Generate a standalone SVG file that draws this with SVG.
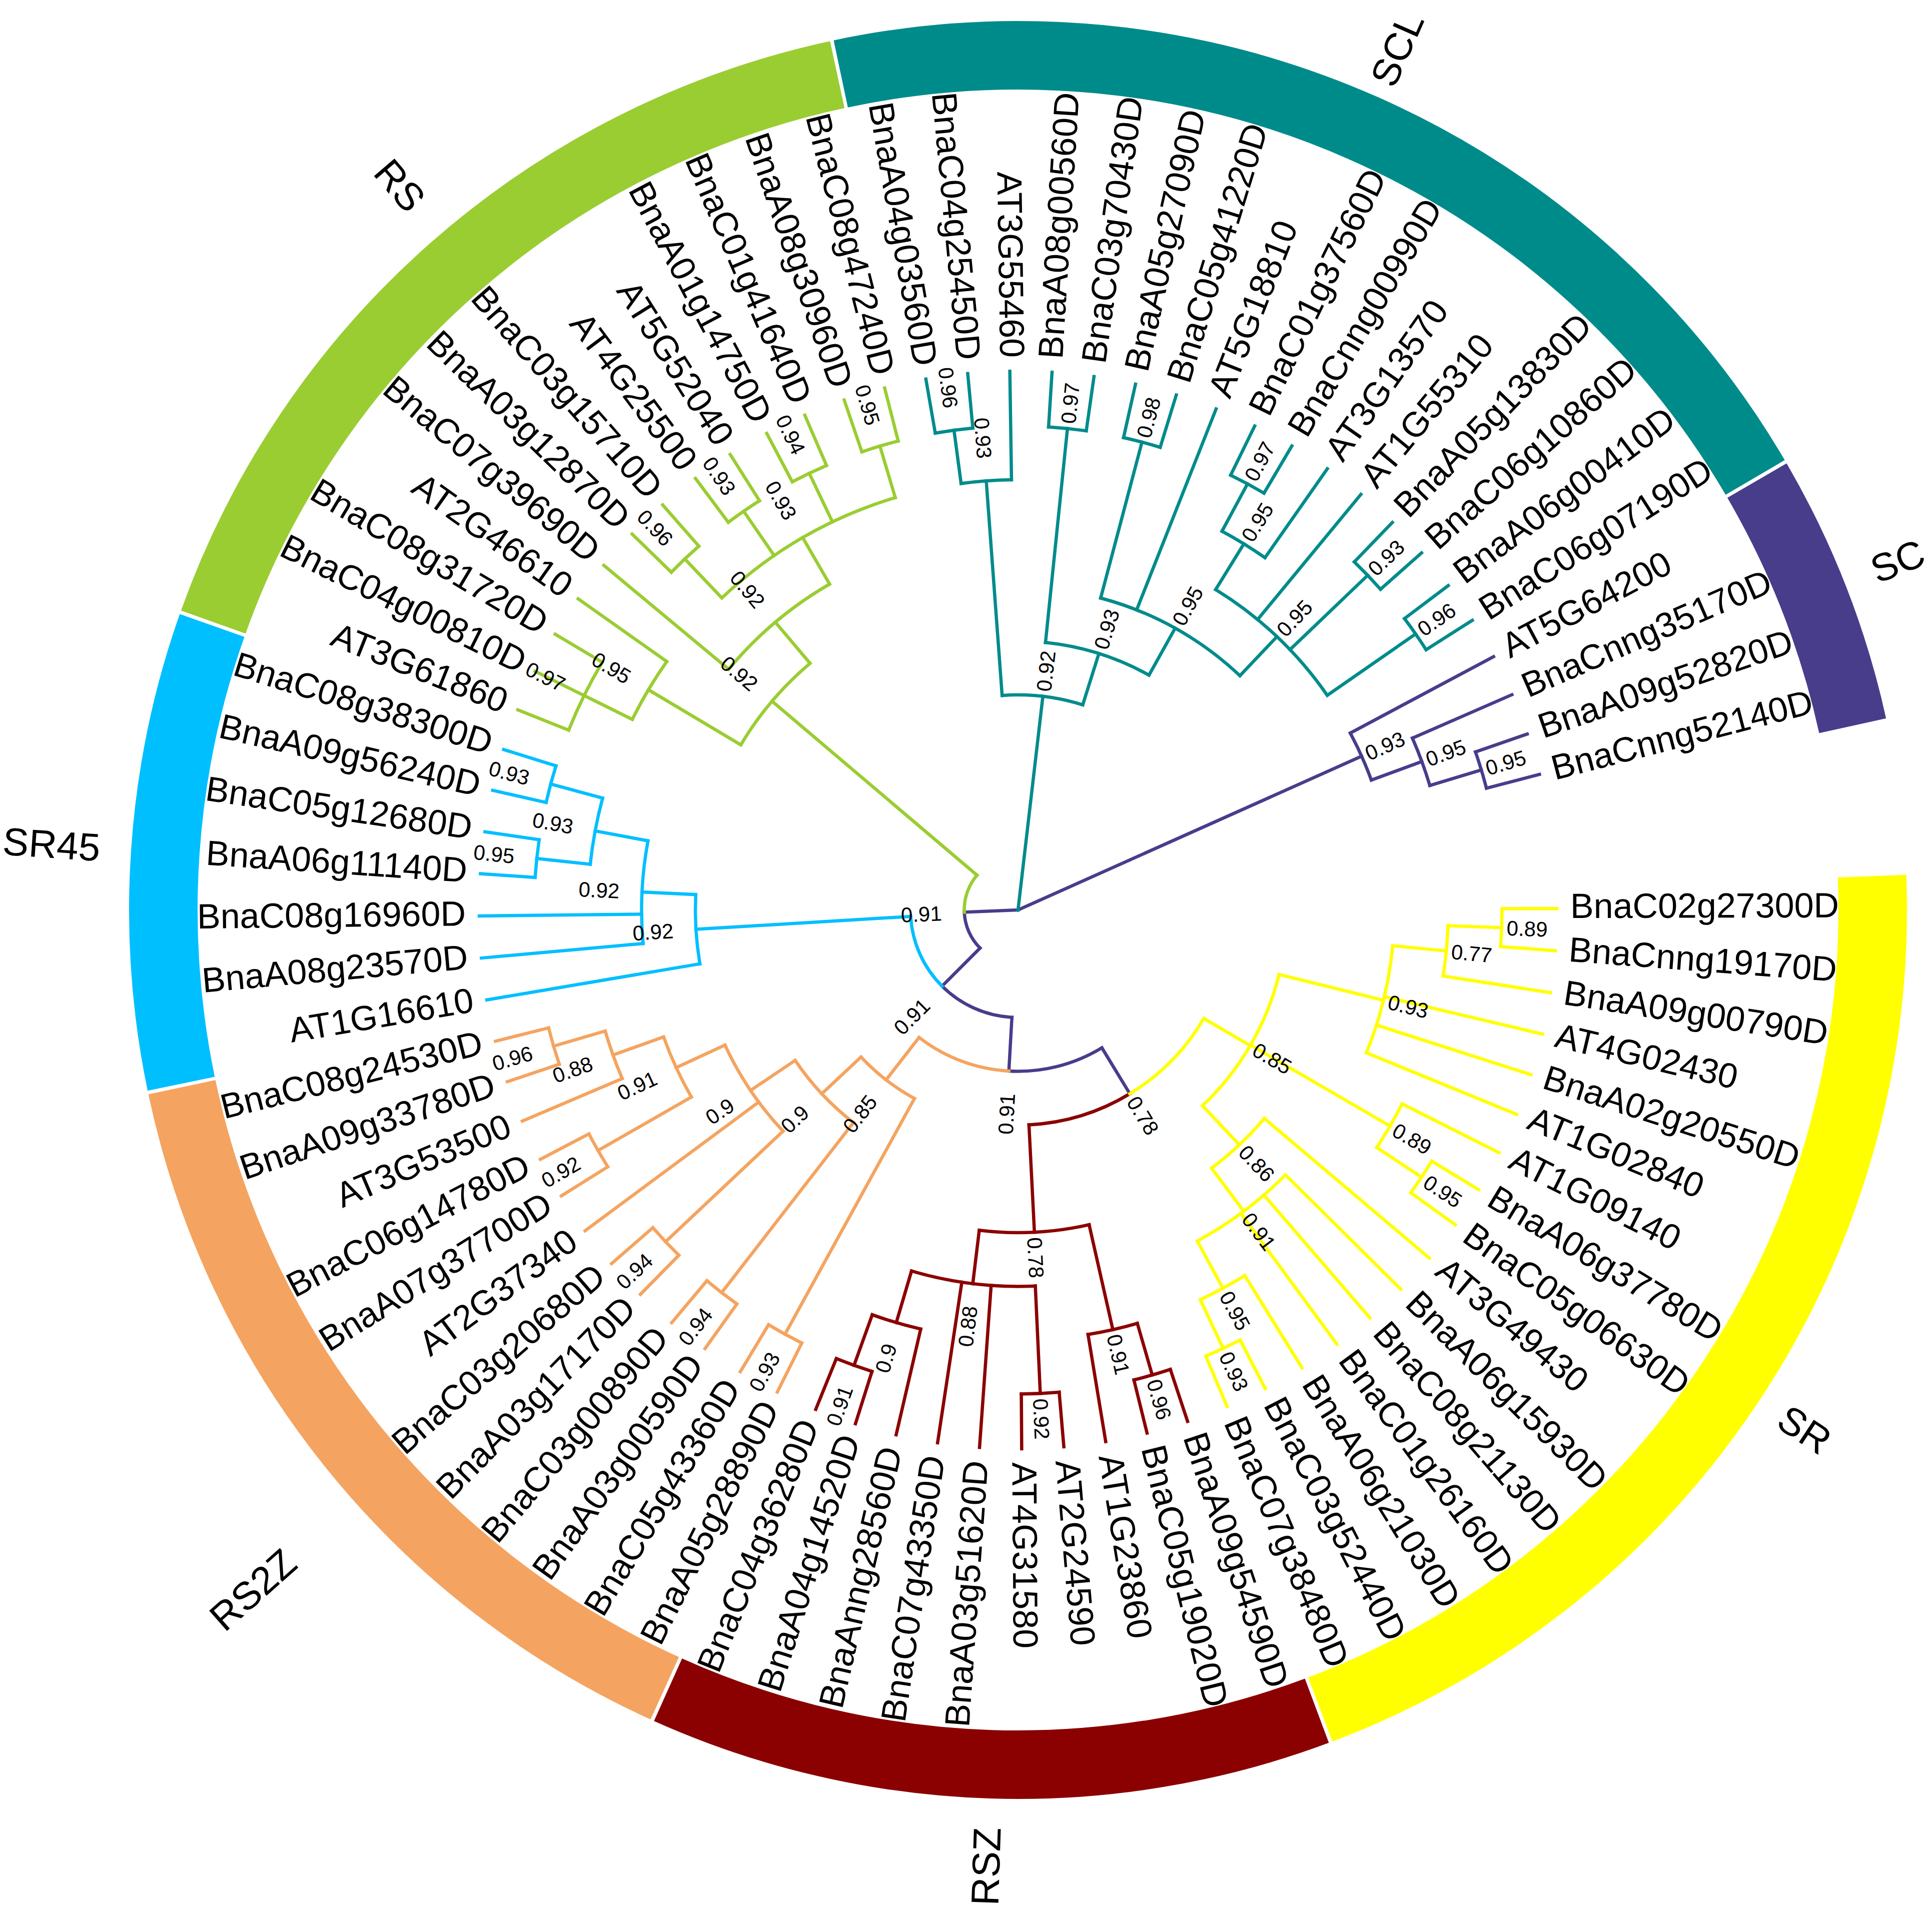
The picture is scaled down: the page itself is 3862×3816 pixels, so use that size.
<svg xmlns="http://www.w3.org/2000/svg" width="3862" height="3816" viewBox="0 0 3862 3816">
<style>
text{font-family:"Liberation Sans",Arial,Helvetica,sans-serif;fill:#000}
.t{font-size:70px}
.b{font-size:42px}
.g{font-size:78px;text-anchor:middle}
.e{text-anchor:end}
#connectors line,#connectors circle{fill:none;stroke-width:6.5;stroke-linecap:square}
#ring circle{fill:none;stroke-width:137}
.cRS{stroke:#9ACD32}.cSCL{stroke:#008B8B}.cSC{stroke:#483D8B}.cSR45{stroke:#00BFFF}.cRS2Z{stroke:#F4A460}.cRSZ{stroke:#8B0000}.cSR{stroke:#FFFF00}
</style>
<rect width="3862" height="3816" fill="#fff"/>
<g transform="translate(2035 1819)">
<g id="ring">
<circle class="cSR" r="1708.5" pathLength="360" stroke-dasharray="71.568 400" transform="rotate(-2.274)"/>
<circle class="cRSZ" r="1708.5" pathLength="360" stroke-dasharray="44.64 400" transform="rotate(69.534)"/>
<circle class="cRS2Z" r="1708.5" pathLength="360" stroke-dasharray="53.616 400" transform="rotate(114.414)"/>
<circle class="cSR45" r="1708.5" pathLength="360" stroke-dasharray="31.176 400" transform="rotate(168.27)"/>
<circle class="cRS" r="1708.5" pathLength="360" stroke-dasharray="58.104 400" transform="rotate(199.686)"/>
<circle class="cSCL" r="1708.5" pathLength="360" stroke-dasharray="71.568 400" transform="rotate(258.03)"/>
<circle class="cSC" r="1708.5" pathLength="360" stroke-dasharray="17.712 400" transform="rotate(329.838)"/>
</g>
<g id="connectors">
<g class="cSC">
<line x2="107.5" transform="rotate(177.618)"/>
<circle r="107.5" pathLength="360" stroke-dasharray="42.707 400" transform="rotate(134.911)"/>
<line x1="107.5" x2="215" transform="rotate(134.911)"/>
<circle r="215" pathLength="360" stroke-dasharray="41.654 400" transform="rotate(93.257)"/>
<line x1="215" x2="322.5" transform="rotate(93.257)"/>
<circle r="322.5" pathLength="360" stroke-dasharray="34.571 400" transform="rotate(58.686)"/>
<line x1="322.5" x2="430" transform="rotate(58.686)"/>
<line x2="752.5" transform="rotate(335.889)"/>
<circle r="752.5" pathLength="360" stroke-dasharray="7.854 400" transform="rotate(331.962)"/>
<line x1="752.5" x2="1077" transform="rotate(331.962)"/>
<line x1="752.5" x2="860" transform="rotate(339.816)"/>
<circle r="860" pathLength="360" stroke-dasharray="6.732 400" transform="rotate(336.45)"/>
<line x1="860" x2="1077" transform="rotate(336.45)"/>
<line x1="860" x2="967.5" transform="rotate(343.182)"/>
<circle r="967.5" pathLength="360" stroke-dasharray="4.488 400" transform="rotate(340.938)"/>
<line x1="967.5" x2="1077" transform="rotate(340.938)"/>
<line x1="967.5" x2="1077" transform="rotate(345.426)"/>
</g>
<g class="cRS">
<circle r="107.5" pathLength="360" stroke-dasharray="42.705 400" transform="rotate(177.618)"/>
<line x1="107.5" x2="645" transform="rotate(220.323)"/>
<circle r="645" pathLength="360" stroke-dasharray="19.074 400" transform="rotate(210.786)"/>
<line x1="645" x2="860" transform="rotate(210.786)"/>
<circle r="860" pathLength="360" stroke-dasharray="8.976 400" transform="rotate(206.298)"/>
<line x1="860" x2="967.5" transform="rotate(206.298)"/>
<circle r="967.5" pathLength="360" stroke-dasharray="8.976 400" transform="rotate(201.81)"/>
<line x1="967.5" x2="1077" transform="rotate(201.81)"/>
<line x1="967.5" x2="1077" transform="rotate(206.298)"/>
<line x1="967.5" x2="1077" transform="rotate(210.786)"/>
<line x1="860" x2="1077" transform="rotate(215.274)"/>
<line x1="645" x2="752.5" transform="rotate(229.86)"/>
<circle r="752.5" pathLength="360" stroke-dasharray="20.196 400" transform="rotate(219.762)"/>
<line x1="752.5" x2="1077" transform="rotate(219.762)"/>
<line x1="752.5" x2="860" transform="rotate(239.958)"/>
<circle r="860" pathLength="360" stroke-dasharray="26.928 400" transform="rotate(226.494)"/>
<line x1="860" x2="967.5" transform="rotate(226.494)"/>
<circle r="967.5" pathLength="360" stroke-dasharray="4.488 400" transform="rotate(224.25)"/>
<line x1="967.5" x2="1077" transform="rotate(224.25)"/>
<line x1="967.5" x2="1077" transform="rotate(228.738)"/>
<line x1="860" x2="967.5" transform="rotate(235.47)"/>
<circle r="967.5" pathLength="360" stroke-dasharray="4.488 400" transform="rotate(233.226)"/>
<line x1="967.5" x2="1077" transform="rotate(233.226)"/>
<line x1="967.5" x2="1077" transform="rotate(237.714)"/>
<line x1="860" x2="967.5" transform="rotate(244.446)"/>
<circle r="967.5" pathLength="360" stroke-dasharray="4.488 400" transform="rotate(242.202)"/>
<line x1="967.5" x2="1077" transform="rotate(242.202)"/>
<line x1="967.5" x2="1077" transform="rotate(246.69)"/>
<line x1="860" x2="967.5" transform="rotate(253.422)"/>
<circle r="967.5" pathLength="360" stroke-dasharray="4.488 400" transform="rotate(251.178)"/>
<line x1="967.5" x2="1077" transform="rotate(251.178)"/>
<line x1="967.5" x2="1077" transform="rotate(255.666)"/>
</g>
<g class="cSR45">
<circle r="215" pathLength="360" stroke-dasharray="41.654 400" transform="rotate(134.911)"/>
<line x1="215" x2="645" transform="rotate(176.565)"/>
<circle r="645" pathLength="360" stroke-dasharray="12.342 400" transform="rotate(170.394)"/>
<line x1="645" x2="1077" transform="rotate(170.394)"/>
<line x1="645" x2="752.5" transform="rotate(182.736)"/>
<circle r="752.5" pathLength="360" stroke-dasharray="15.708 400" transform="rotate(174.882)"/>
<line x1="752.5" x2="1077" transform="rotate(174.882)"/>
<line x1="752.5" x2="1077" transform="rotate(179.37)"/>
<line x1="752.5" x2="860" transform="rotate(190.59)"/>
<circle r="860" pathLength="360" stroke-dasharray="8.976 400" transform="rotate(186.102)"/>
<line x1="860" x2="967.5" transform="rotate(186.102)"/>
<circle r="967.5" pathLength="360" stroke-dasharray="4.488 400" transform="rotate(183.858)"/>
<line x1="967.5" x2="1077" transform="rotate(183.858)"/>
<line x1="967.5" x2="1077" transform="rotate(188.346)"/>
<line x1="860" x2="967.5" transform="rotate(195.078)"/>
<circle r="967.5" pathLength="360" stroke-dasharray="4.488 400" transform="rotate(192.834)"/>
<line x1="967.5" x2="1077" transform="rotate(192.834)"/>
<line x1="967.5" x2="1077" transform="rotate(197.322)"/>
</g>
<g class="cRS2Z">
<circle r="322.5" pathLength="360" stroke-dasharray="34.571 400" transform="rotate(93.257)"/>
<line x1="322.5" x2="430" transform="rotate(127.828)"/>
<circle r="430" pathLength="360" stroke-dasharray="18.092 400" transform="rotate(118.782)"/>
<line x1="430" x2="967.5" transform="rotate(118.782)"/>
<circle r="967.5" pathLength="360" stroke-dasharray="4.488 400" transform="rotate(116.538)"/>
<line x1="967.5" x2="1077" transform="rotate(116.538)"/>
<line x1="967.5" x2="1077" transform="rotate(121.026)"/>
<line x1="430" x2="537.5" transform="rotate(136.874)"/>
<circle r="537.5" pathLength="360" stroke-dasharray="18.232 400" transform="rotate(127.758)"/>
<line x1="537.5" x2="967.5" transform="rotate(127.758)"/>
<circle r="967.5" pathLength="360" stroke-dasharray="4.488 400" transform="rotate(125.514)"/>
<line x1="967.5" x2="1077" transform="rotate(125.514)"/>
<line x1="967.5" x2="1077" transform="rotate(130.002)"/>
<line x1="537.5" x2="645" transform="rotate(145.99)"/>
<circle r="645" pathLength="360" stroke-dasharray="18.513 400" transform="rotate(136.734)"/>
<line x1="645" x2="967.5" transform="rotate(136.734)"/>
<circle r="967.5" pathLength="360" stroke-dasharray="4.488 400" transform="rotate(134.49)"/>
<line x1="967.5" x2="1077" transform="rotate(134.49)"/>
<line x1="967.5" x2="1077" transform="rotate(138.978)"/>
<line x1="645" x2="1077" transform="rotate(143.466)"/>
<line x1="645" x2="752.5" transform="rotate(155.247)"/>
<circle r="752.5" pathLength="360" stroke-dasharray="10.098 400" transform="rotate(150.198)"/>
<line x1="752.5" x2="967.5" transform="rotate(150.198)"/>
<circle r="967.5" pathLength="360" stroke-dasharray="4.488 400" transform="rotate(147.954)"/>
<line x1="967.5" x2="1077" transform="rotate(147.954)"/>
<line x1="967.5" x2="1077" transform="rotate(152.442)"/>
<line x1="752.5" x2="860" transform="rotate(160.296)"/>
<circle r="860" pathLength="360" stroke-dasharray="6.732 400" transform="rotate(156.93)"/>
<line x1="860" x2="1077" transform="rotate(156.93)"/>
<line x1="860" x2="967.5" transform="rotate(163.662)"/>
<circle r="967.5" pathLength="360" stroke-dasharray="4.488 400" transform="rotate(161.418)"/>
<line x1="967.5" x2="1077" transform="rotate(161.418)"/>
<line x1="967.5" x2="1077" transform="rotate(165.906)"/>
</g>
<g class="cRSZ">
<circle r="430" pathLength="360" stroke-dasharray="28.4 400" transform="rotate(58.686)"/>
<line x1="430" x2="645" transform="rotate(87.086)"/>
<circle r="645" pathLength="360" stroke-dasharray="19.635 400" transform="rotate(77.268)"/>
<line x1="645" x2="860" transform="rotate(77.268)"/>
<circle r="860" pathLength="360" stroke-dasharray="6.732 400" transform="rotate(73.902)"/>
<line x1="860" x2="967.5" transform="rotate(73.902)"/>
<circle r="967.5" pathLength="360" stroke-dasharray="4.488 400" transform="rotate(71.658)"/>
<line x1="967.5" x2="1077" transform="rotate(71.658)"/>
<line x1="967.5" x2="1077" transform="rotate(76.146)"/>
<line x1="860" x2="1077" transform="rotate(80.634)"/>
<line x1="645" x2="752.5" transform="rotate(96.903)"/>
<circle r="752.5" pathLength="360" stroke-dasharray="19.074 400" transform="rotate(87.366)"/>
<line x1="752.5" x2="967.5" transform="rotate(87.366)"/>
<circle r="967.5" pathLength="360" stroke-dasharray="4.488 400" transform="rotate(85.122)"/>
<line x1="967.5" x2="1077" transform="rotate(85.122)"/>
<line x1="967.5" x2="1077" transform="rotate(89.61)"/>
<line x1="752.5" x2="1077" transform="rotate(94.098)"/>
<line x1="752.5" x2="1077" transform="rotate(98.586)"/>
<line x1="752.5" x2="860" transform="rotate(106.44)"/>
<circle r="860" pathLength="360" stroke-dasharray="6.732 400" transform="rotate(103.074)"/>
<line x1="860" x2="1077" transform="rotate(103.074)"/>
<line x1="860" x2="967.5" transform="rotate(109.806)"/>
<circle r="967.5" pathLength="360" stroke-dasharray="4.488 400" transform="rotate(107.562)"/>
<line x1="967.5" x2="1077" transform="rotate(107.562)"/>
<line x1="967.5" x2="1077" transform="rotate(112.05)"/>
</g>
<g class="cSR">
<circle r="430" pathLength="360" stroke-dasharray="28.401 400" transform="rotate(30.285)"/>
<line x1="430" x2="537.5" transform="rotate(30.285)"/>
<circle r="537.5" pathLength="360" stroke-dasharray="32.819 400" transform="rotate(13.875)"/>
<line x1="537.5" x2="752.5" transform="rotate(13.875)"/>
<circle r="752.5" pathLength="360" stroke-dasharray="16.83 400" transform="rotate(5.46)"/>
<line x1="752.5" x2="860" transform="rotate(5.46)"/>
<circle r="860" pathLength="360" stroke-dasharray="6.732 400" transform="rotate(2.094)"/>
<line x1="860" x2="967.5" transform="rotate(2.094)"/>
<circle r="967.5" pathLength="360" stroke-dasharray="4.488 400" transform="rotate(-0.15)"/>
<line x1="967.5" x2="1077" transform="rotate(-0.15)"/>
<line x1="967.5" x2="1077" transform="rotate(4.338)"/>
<line x1="860" x2="1077" transform="rotate(8.826)"/>
<line x1="752.5" x2="1077" transform="rotate(13.314)"/>
<line x1="752.5" x2="1077" transform="rotate(17.802)"/>
<line x1="752.5" x2="1077" transform="rotate(22.29)"/>
<line x1="537.5" x2="860" transform="rotate(30.144)"/>
<circle r="860" pathLength="360" stroke-dasharray="6.732 400" transform="rotate(26.778)"/>
<line x1="860" x2="1077" transform="rotate(26.778)"/>
<line x1="860" x2="967.5" transform="rotate(33.51)"/>
<circle r="967.5" pathLength="360" stroke-dasharray="4.488 400" transform="rotate(31.266)"/>
<line x1="967.5" x2="1077" transform="rotate(31.266)"/>
<line x1="967.5" x2="1077" transform="rotate(35.754)"/>
<line x1="537.5" x2="645" transform="rotate(46.694)"/>
<circle r="645" pathLength="360" stroke-dasharray="12.903 400" transform="rotate(40.242)"/>
<line x1="645" x2="1077" transform="rotate(40.242)"/>
<line x1="645" x2="752.5" transform="rotate(53.145)"/>
<circle r="752.5" pathLength="360" stroke-dasharray="16.83 400" transform="rotate(44.73)"/>
<line x1="752.5" x2="1077" transform="rotate(44.73)"/>
<line x1="752.5" x2="1077" transform="rotate(49.218)"/>
<line x1="752.5" x2="1077" transform="rotate(53.706)"/>
<line x1="752.5" x2="860" transform="rotate(61.56)"/>
<circle r="860" pathLength="360" stroke-dasharray="6.732 400" transform="rotate(58.194)"/>
<line x1="860" x2="1077" transform="rotate(58.194)"/>
<line x1="860" x2="967.5" transform="rotate(64.926)"/>
<circle r="967.5" pathLength="360" stroke-dasharray="4.488 400" transform="rotate(62.682)"/>
<line x1="967.5" x2="1077" transform="rotate(62.682)"/>
<line x1="967.5" x2="1077" transform="rotate(67.17)"/>
</g>
<g class="cSCL">
<line x2="430" transform="rotate(276.634)"/>
<circle r="430" pathLength="360" stroke-dasharray="21.739 400" transform="rotate(265.764)"/>
<line x1="430" x2="860" transform="rotate(265.764)"/>
<circle r="860" pathLength="360" stroke-dasharray="6.732 400" transform="rotate(262.398)"/>
<line x1="860" x2="967.5" transform="rotate(262.398)"/>
<circle r="967.5" pathLength="360" stroke-dasharray="4.488 400" transform="rotate(260.154)"/>
<line x1="967.5" x2="1077" transform="rotate(260.154)"/>
<line x1="967.5" x2="1077" transform="rotate(264.642)"/>
<line x1="860" x2="1077" transform="rotate(269.13)"/>
<line x1="430" x2="537.5" transform="rotate(287.503)"/>
<circle r="537.5" pathLength="360" stroke-dasharray="23.282 400" transform="rotate(275.862)"/>
<line x1="537.5" x2="967.5" transform="rotate(275.862)"/>
<circle r="967.5" pathLength="360" stroke-dasharray="4.488 400" transform="rotate(273.618)"/>
<line x1="967.5" x2="1077" transform="rotate(273.618)"/>
<line x1="967.5" x2="1077" transform="rotate(278.106)"/>
<line x1="537.5" x2="645" transform="rotate(299.144)"/>
<circle r="645" pathLength="360" stroke-dasharray="28.611 400" transform="rotate(284.838)"/>
<line x1="645" x2="967.5" transform="rotate(284.838)"/>
<circle r="967.5" pathLength="360" stroke-dasharray="4.488 400" transform="rotate(282.594)"/>
<line x1="967.5" x2="1077" transform="rotate(282.594)"/>
<line x1="967.5" x2="1077" transform="rotate(287.082)"/>
<line x1="645" x2="1077" transform="rotate(291.57)"/>
<line x1="645" x2="752.5" transform="rotate(313.449)"/>
<circle r="752.5" pathLength="360" stroke-dasharray="23.562 400" transform="rotate(301.668)"/>
<line x1="752.5" x2="860" transform="rotate(301.668)"/>
<circle r="860" pathLength="360" stroke-dasharray="6.732 400" transform="rotate(298.302)"/>
<line x1="860" x2="967.5" transform="rotate(298.302)"/>
<circle r="967.5" pathLength="360" stroke-dasharray="4.488 400" transform="rotate(296.058)"/>
<line x1="967.5" x2="1077" transform="rotate(296.058)"/>
<line x1="967.5" x2="1077" transform="rotate(300.546)"/>
<line x1="860" x2="1077" transform="rotate(305.034)"/>
<line x1="752.5" x2="1077" transform="rotate(309.522)"/>
<line x1="752.5" x2="967.5" transform="rotate(316.254)"/>
<circle r="967.5" pathLength="360" stroke-dasharray="4.488 400" transform="rotate(314.01)"/>
<line x1="967.5" x2="1077" transform="rotate(314.01)"/>
<line x1="967.5" x2="1077" transform="rotate(318.498)"/>
<line x1="752.5" x2="967.5" transform="rotate(325.23)"/>
<circle r="967.5" pathLength="360" stroke-dasharray="4.488 400" transform="rotate(322.986)"/>
<line x1="967.5" x2="1077" transform="rotate(322.986)"/>
<line x1="967.5" x2="1077" transform="rotate(327.474)"/>
</g>
</g>
<g id="leaves">
<g id="BnaC02g27300D"><text class="t" x="1104" y="19" transform="rotate(-0.15)">BnaC02g27300D</text></g>
<g id="BnaCnng19170D"><text class="t" x="1104" y="19" transform="rotate(4.338)">BnaCnng19170D</text></g>
<g id="BnaA09g00790D"><text class="t" x="1104" y="19" transform="rotate(8.826)">BnaA09g00790D</text></g>
<g id="AT4G02430"><text class="t" x="1104" y="19" transform="rotate(13.314)">AT4G02430</text></g>
<g id="BnaA02g20550D"><text class="t" x="1104" y="19" transform="rotate(17.802)">BnaA02g20550D</text></g>
<g id="AT1G02840"><text class="t" x="1104" y="19" transform="rotate(22.29)">AT1G02840</text></g>
<g id="AT1G09140"><text class="t" x="1104" y="19" transform="rotate(26.778)">AT1G09140</text></g>
<g id="BnaA06g37780D"><text class="t" x="1104" y="19" transform="rotate(31.266)">BnaA06g37780D</text></g>
<g id="BnaC05g06630D"><text class="t" x="1104" y="19" transform="rotate(35.754)">BnaC05g06630D</text></g>
<g id="AT3G49430"><text class="t" x="1104" y="19" transform="rotate(40.242)">AT3G49430</text></g>
<g id="BnaA06g15930D"><text class="t" x="1104" y="19" transform="rotate(44.73)">BnaA06g15930D</text></g>
<g id="BnaC08g21130D"><text class="t" x="1104" y="19" transform="rotate(49.218)">BnaC08g21130D</text></g>
<g id="BnaC01g26160D"><text class="t" x="1104" y="19" transform="rotate(53.706)">BnaC01g26160D</text></g>
<g id="BnaA06g21030D"><text class="t" x="1104" y="19" transform="rotate(58.194)">BnaA06g21030D</text></g>
<g id="BnaC03g52440D"><text class="t" x="1104" y="19" transform="rotate(62.682)">BnaC03g52440D</text></g>
<g id="BnaC07g38480D"><text class="t" x="1104" y="19" transform="rotate(67.17)">BnaC07g38480D</text></g>
<g id="BnaA09g54590D"><text class="t" x="1104" y="19" transform="rotate(71.658)">BnaA09g54590D</text></g>
<g id="BnaC05g19020D"><text class="t" x="1104" y="19" transform="rotate(76.146)">BnaC05g19020D</text></g>
<g id="AT1G23860"><text class="t" x="1104" y="19" transform="rotate(80.634)">AT1G23860</text></g>
<g id="AT2G24590"><text class="t" x="1104" y="19" transform="rotate(85.122)">AT2G24590</text></g>
<g id="AT4G31580"><text class="t" x="1104" y="19" transform="rotate(89.61)">AT4G31580</text></g>
<g id="BnaA03g51620D"><text class="t e" x="-1104" y="19" transform="rotate(-85.902)">BnaA03g51620D</text></g>
<g id="BnaC07g43350D"><text class="t e" x="-1104" y="19" transform="rotate(-81.414)">BnaC07g43350D</text></g>
<g id="BnaAnng28560D"><text class="t e" x="-1104" y="19" transform="rotate(-76.926)">BnaAnng28560D</text></g>
<g id="BnaA04g14520D"><text class="t e" x="-1104" y="19" transform="rotate(-72.438)">BnaA04g14520D</text></g>
<g id="BnaC04g36280D"><text class="t e" x="-1104" y="19" transform="rotate(-67.95)">BnaC04g36280D</text></g>
<g id="BnaA05g28890D"><text class="t e" x="-1104" y="19" transform="rotate(-63.462)">BnaA05g28890D</text></g>
<g id="BnaC05g43360D"><text class="t e" x="-1104" y="19" transform="rotate(-58.974)">BnaC05g43360D</text></g>
<g id="BnaA03g00590D"><text class="t e" x="-1104" y="19" transform="rotate(-54.486)">BnaA03g00590D</text></g>
<g id="BnaC03g00890D"><text class="t e" x="-1104" y="19" transform="rotate(-49.998)">BnaC03g00890D</text></g>
<g id="BnaA03g17170D"><text class="t e" x="-1104" y="19" transform="rotate(-45.51)">BnaA03g17170D</text></g>
<g id="BnaC03g20680D"><text class="t e" x="-1104" y="19" transform="rotate(-41.022)">BnaC03g20680D</text></g>
<g id="AT2G37340"><text class="t e" x="-1104" y="19" transform="rotate(-36.534)">AT2G37340</text></g>
<g id="BnaA07g37700D"><text class="t e" x="-1104" y="19" transform="rotate(-32.046)">BnaA07g37700D</text></g>
<g id="BnaC06g14780D"><text class="t e" x="-1104" y="19" transform="rotate(-27.558)">BnaC06g14780D</text></g>
<g id="AT3G53500"><text class="t e" x="-1104" y="19" transform="rotate(-23.07)">AT3G53500</text></g>
<g id="BnaA09g33780D"><text class="t e" x="-1104" y="19" transform="rotate(-18.582)">BnaA09g33780D</text></g>
<g id="BnaC08g24530D"><text class="t e" x="-1104" y="19" transform="rotate(-14.094)">BnaC08g24530D</text></g>
<g id="AT1G16610"><text class="t e" x="-1104" y="19" transform="rotate(-9.606)">AT1G16610</text></g>
<g id="BnaA08g23570D"><text class="t e" x="-1104" y="19" transform="rotate(-5.118)">BnaA08g23570D</text></g>
<g id="BnaC08g16960D"><text class="t e" x="-1104" y="19" transform="rotate(-0.63)">BnaC08g16960D</text></g>
<g id="BnaA06g11140D"><text class="t e" x="-1104" y="19" transform="rotate(3.858)">BnaA06g11140D</text></g>
<g id="BnaC05g12680D"><text class="t e" x="-1104" y="19" transform="rotate(8.346)">BnaC05g12680D</text></g>
<g id="BnaA09g56240D"><text class="t e" x="-1104" y="19" transform="rotate(12.834)">BnaA09g56240D</text></g>
<g id="BnaC08g38300D"><text class="t e" x="-1104" y="19" transform="rotate(17.322)">BnaC08g38300D</text></g>
<g id="AT3G61860"><text class="t e" x="-1104" y="19" transform="rotate(21.81)">AT3G61860</text></g>
<g id="BnaC04g00810D"><text class="t e" x="-1104" y="19" transform="rotate(26.298)">BnaC04g00810D</text></g>
<g id="BnaC08g31720D"><text class="t e" x="-1104" y="19" transform="rotate(30.786)">BnaC08g31720D</text></g>
<g id="AT2G46610"><text class="t e" x="-1104" y="19" transform="rotate(35.274)">AT2G46610</text></g>
<g id="BnaC07g39690D"><text class="t e" x="-1104" y="19" transform="rotate(39.762)">BnaC07g39690D</text></g>
<g id="BnaA03g12870D"><text class="t e" x="-1104" y="19" transform="rotate(44.25)">BnaA03g12870D</text></g>
<g id="BnaC03g15710D"><text class="t e" x="-1104" y="19" transform="rotate(48.738)">BnaC03g15710D</text></g>
<g id="AT4G25500"><text class="t e" x="-1104" y="19" transform="rotate(53.226)">AT4G25500</text></g>
<g id="AT5G52040"><text class="t e" x="-1104" y="19" transform="rotate(57.714)">AT5G52040</text></g>
<g id="BnaA01g14750D"><text class="t e" x="-1104" y="19" transform="rotate(62.202)">BnaA01g14750D</text></g>
<g id="BnaC01g41640D"><text class="t e" x="-1104" y="19" transform="rotate(66.69)">BnaC01g41640D</text></g>
<g id="BnaA08g30960D"><text class="t e" x="-1104" y="19" transform="rotate(71.178)">BnaA08g30960D</text></g>
<g id="BnaC08g47240D"><text class="t e" x="-1104" y="19" transform="rotate(75.666)">BnaC08g47240D</text></g>
<g id="BnaA04g03560D"><text class="t e" x="-1104" y="19" transform="rotate(80.154)">BnaA04g03560D</text></g>
<g id="BnaC04g25450D"><text class="t e" x="-1104" y="19" transform="rotate(84.642)">BnaC04g25450D</text></g>
<g id="AT3G55460"><text class="t e" x="-1104" y="19" transform="rotate(89.13)">AT3G55460</text></g>
<g id="BnaA08g00560D"><text class="t" x="1104" y="19" transform="rotate(273.618)">BnaA08g00560D</text></g>
<g id="BnaC03g70430D"><text class="t" x="1104" y="19" transform="rotate(278.106)">BnaC03g70430D</text></g>
<g id="BnaA05g27090D"><text class="t" x="1104" y="19" transform="rotate(282.594)">BnaA05g27090D</text></g>
<g id="BnaC05g41220D"><text class="t" x="1104" y="19" transform="rotate(287.082)">BnaC05g41220D</text></g>
<g id="AT5G18810"><text class="t" x="1104" y="19" transform="rotate(291.57)">AT5G18810</text></g>
<g id="BnaC01g37560D"><text class="t" x="1104" y="19" transform="rotate(296.058)">BnaC01g37560D</text></g>
<g id="BnaCnng00990D"><text class="t" x="1104" y="19" transform="rotate(300.546)">BnaCnng00990D</text></g>
<g id="AT3G13570"><text class="t" x="1104" y="19" transform="rotate(305.034)">AT3G13570</text></g>
<g id="AT1G55310"><text class="t" x="1104" y="19" transform="rotate(309.522)">AT1G55310</text></g>
<g id="BnaA05g13830D"><text class="t" x="1104" y="19" transform="rotate(314.01)">BnaA05g13830D</text></g>
<g id="BnaC06g10860D"><text class="t" x="1104" y="19" transform="rotate(318.498)">BnaC06g10860D</text></g>
<g id="BnaA06g00410D"><text class="t" x="1104" y="19" transform="rotate(322.986)">BnaA06g00410D</text></g>
<g id="BnaC06g07190D"><text class="t" x="1104" y="19" transform="rotate(327.474)">BnaC06g07190D</text></g>
<g id="AT5G64200"><text class="t" x="1104" y="19" transform="rotate(331.962)">AT5G64200</text></g>
<g id="BnaCnng35170D"><text class="t" x="1104" y="19" transform="rotate(336.45)">BnaCnng35170D</text></g>
<g id="BnaA09g52820D"><text class="t" x="1104" y="19" transform="rotate(340.938)">BnaA09g52820D</text></g>
<g id="BnaCnng52140D"><text class="t" x="1104" y="19" transform="rotate(345.426)">BnaCnng52140D</text></g>
</g>
<g id="support">
<g id="n_Y89"><text class="b" x="977.5" y="15" transform="rotate(2.094)">0.89</text></g>
<g id="n_Y77"><text class="b" x="870" y="15" transform="rotate(5.46)">0.77</text></g>
<g id="n_Y93"><text class="b" x="762.5" y="15" transform="rotate(13.875)">0.93</text></g>
<g id="n_Y85"><text class="b" x="547.5" y="15" transform="rotate(30.285)">0.85</text></g>
<g id="n_Y89b"><text class="b" x="870" y="15" transform="rotate(30.144)">0.89</text></g>
<g id="n_Y95b"><text class="b" x="977.5" y="15" transform="rotate(33.51)">0.95</text></g>
<g id="n_Y86"><text class="b" x="655" y="15" transform="rotate(46.694)">0.86</text></g>
<g id="n_Y91"><text class="b" x="762.5" y="15" transform="rotate(53.145)">0.91</text></g>
<g id="n_Y95c"><text class="b" x="870" y="15" transform="rotate(61.56)">0.95</text></g>
<g id="n_Y93c"><text class="b" x="977.5" y="15" transform="rotate(64.926)">0.93</text></g>
<g id="n_N4"><text class="b" x="440" y="15" transform="rotate(58.686)">0.78</text></g>
<g id="n_RSZ"><text class="b" x="655" y="15" transform="rotate(87.086)">0.78</text></g>
<g id="n_Z91"><text class="b" x="870" y="15" transform="rotate(77.268)">0.91</text></g>
<g id="n_Z96"><text class="b" x="977.5" y="15" transform="rotate(73.902)">0.96</text></g>
<g id="n_Z92"><text class="b" x="977.5" y="15" transform="rotate(87.366)">0.92</text></g>
<g id="n_SCL"><text class="b" x="440" y="15" transform="rotate(276.634)">0.92</text></g>
<g id="n_T93"><text class="b" x="547.5" y="15" transform="rotate(287.503)">0.93</text></g>
<g id="n_S97"><text class="b" x="977.5" y="15" transform="rotate(275.862)">0.97</text></g>
<g id="n_T95"><text class="b" x="655" y="15" transform="rotate(299.144)">0.95</text></g>
<g id="n_S98"><text class="b" x="977.5" y="15" transform="rotate(284.838)">0.98</text></g>
<g id="n_U95"><text class="b" x="762.5" y="15" transform="rotate(313.449)">0.95</text></g>
<g id="n_S95c"><text class="b" x="870" y="15" transform="rotate(301.668)">0.95</text></g>
<g id="n_S97b"><text class="b" x="977.5" y="15" transform="rotate(298.302)">0.97</text></g>
<g id="n_N93c"><text class="b" x="977.5" y="15" transform="rotate(316.254)">0.93</text></g>
<g id="n_N96c"><text class="b" x="977.5" y="15" transform="rotate(325.23)">0.96</text></g>
<g id="n_SC"><text class="b" x="762.5" y="15" transform="rotate(335.889)">0.93</text></g>
<g id="n_SC95a"><text class="b" x="870" y="15" transform="rotate(339.816)">0.95</text></g>
<g id="n_SC95b"><text class="b" x="977.5" y="15" transform="rotate(343.182)">0.95</text></g>
<g id="n_Z88"><text class="b e" x="-797.5" y="15" transform="rotate(-83.097)">0.88</text></g>
<g id="n_Z90"><text class="b e" x="-905" y="15" transform="rotate(-73.56)">0.9</text></g>
<g id="n_Z91b"><text class="b e" x="-1012.5" y="15" transform="rotate(-70.194)">0.91</text></g>
<g id="n_N3"><text class="b e" x="-367.5" y="15" transform="rotate(-86.743)">0.91</text></g>
<g id="n_N2"><text class="b e" x="-260" y="15" transform="rotate(-45.089)">0.91</text></g>
<g id="n_N1"><text class="b e" x="-152.5" y="15" transform="rotate(-2.382)">0.91</text></g>
<g id="n_RS2Z"><text class="b e" x="-475" y="15" transform="rotate(-52.172)">0.85</text></g>
<g id="n_N93d"><text class="b e" x="-1012.5" y="15" transform="rotate(-61.218)">0.93</text></g>
<g id="n_N90b"><text class="b e" x="-582.5" y="15" transform="rotate(-43.126)">0.9</text></g>
<g id="n_N94g"><text class="b e" x="-1012.5" y="15" transform="rotate(-52.242)">0.94</text></g>
<g id="n_N90a"><text class="b e" x="-690" y="15" transform="rotate(-34.01)">0.9</text></g>
<g id="n_N94f"><text class="b e" x="-1012.5" y="15" transform="rotate(-43.266)">0.94</text></g>
<g id="n_N91e"><text class="b e" x="-797.5" y="15" transform="rotate(-24.753)">0.91</text></g>
<g id="n_N92e"><text class="b e" x="-1012.5" y="15" transform="rotate(-29.802)">0.92</text></g>
<g id="n_N88"><text class="b e" x="-905" y="15" transform="rotate(-19.704)">0.88</text></g>
<g id="n_N96e"><text class="b e" x="-1012.5" y="15" transform="rotate(-16.338)">0.96</text></g>
<g id="n_R45"><text class="b e" x="-690" y="15" transform="rotate(-3.435)">0.92</text></g>
<g id="n_D45"><text class="b e" x="-797.5" y="15" transform="rotate(2.736)">0.92</text></g>
<g id="n_B45"><text class="b e" x="-905" y="15" transform="rotate(10.59)">0.93</text></g>
<g id="n_C45"><text class="b e" x="-1012.5" y="15" transform="rotate(6.102)">0.95</text></g>
<g id="n_A45"><text class="b e" x="-1012.5" y="15" transform="rotate(15.078)">0.93</text></g>
<g id="n_RS"><text class="b e" x="-690" y="15" transform="rotate(40.323)">0.92</text></g>
<g id="n_Yrs"><text class="b e" x="-905" y="15" transform="rotate(30.786)">0.95</text></g>
<g id="n_Xrs"><text class="b e" x="-1012.5" y="15" transform="rotate(26.298)">0.97</text></g>
<g id="n_Qrs"><text class="b e" x="-797.5" y="15" transform="rotate(49.86)">0.92</text></g>
<g id="n_Prs"><text class="b e" x="-905" y="15" transform="rotate(59.958)">0.93</text></g>
<g id="n_N96r"><text class="b e" x="-1012.5" y="15" transform="rotate(46.494)">0.96</text></g>
<g id="n_N93r"><text class="b e" x="-1012.5" y="15" transform="rotate(55.47)">0.93</text></g>
<g id="n_N94r"><text class="b e" x="-1012.5" y="15" transform="rotate(64.446)">0.94</text></g>
<g id="n_N95r"><text class="b e" x="-1012.5" y="15" transform="rotate(73.422)">0.95</text></g>
<g id="n_S93"><text class="b e" x="-905" y="15" transform="rotate(85.764)">0.93</text></g>
<g id="n_S96"><text class="b e" x="-1012.5" y="15" transform="rotate(82.398)">0.96</text></g>
</g>
</g>
<g id="groups">
<text class="g" x="103" y="1715" transform="rotate(3.9 103 1687)">SR45</text>
<text class="g" x="1970" y="3759" transform="rotate(-88.1 1970 3731)">RSZ</text>
<text class="g" x="3793" y="1149" transform="rotate(-21.65 3793 1121)">SC</text>
<text class="g" x="2792" y="126" transform="rotate(-66.25 2792 98)">SCL</text>
<text class="g" x="800" y="398" transform="rotate(49.6 800 370)">RS</text>
<text class="g" x="3608" y="2885" transform="rotate(33.4 3608 2857)">SR</text>
<text class="g" x="505" y="3205" transform="rotate(-41.6 505 3177)">RS2Z</text>
</g>
</svg>
